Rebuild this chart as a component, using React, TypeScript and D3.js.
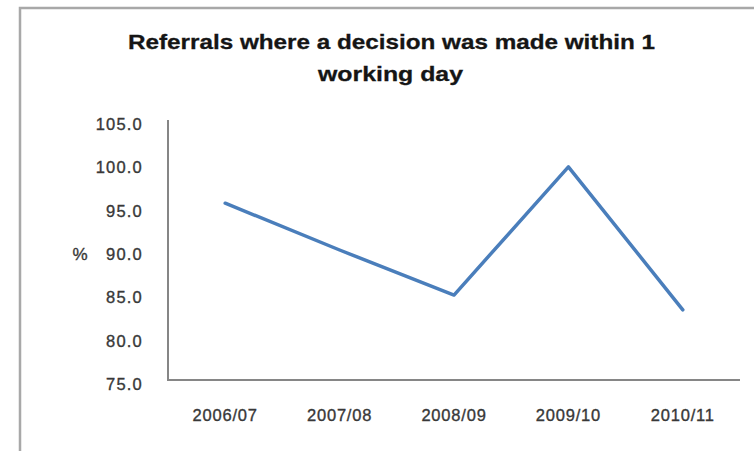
import React from "react";
import * as d3 from "d3";

const categories: string[] = ["2006/07", "2007/08", "2008/09", "2009/10", "2010/11"];
const values: number[] = [95.4, 90.0, 84.8, 99.6, 83.1];
const yTicks: number[] = [75, 80, 85, 90, 95, 100, 105];
const titleLines: string[] = ["Referrals where a decision was made within 1", "working day"];
const yAxisLabel = "%";

const W = 754;
const H = 451;
const plot = { left: 168, right: 740, top: 120, bottom: 380 };

export default function App() {
  const x = d3.scaleBand<string>().domain(categories).range([plot.left, plot.right]).padding(0);
  const y = d3.scaleLinear().domain([75, 105]).range([plot.bottom, plot.top]);
  const line = d3
    .line<number>()
    .x((_, i) => (x(categories[i]) as number) + x.bandwidth() / 2)
    .y((d) => y(d));

  const textColor = "#383838";
  const font = "'Liberation Sans', Arial, sans-serif";

  return (
    <svg
      width={W}
      height={H}
      viewBox={`0 0 ${W} ${H}`}
      style={{ position: "absolute", left: 0, top: 0, background: "#fff" }}
    >
      <rect x={0} y={0} width={W} height={H} fill="#fff" />
      {/* chart border */}
      <path d={`M20,${H + 5} L20,8 L${W + 5},8`} fill="none" stroke="#a8a8a8" strokeWidth={2.5} />

      {/* title */}
      <text x={391.5} y={49} textAnchor="middle" fontFamily={font} fontWeight="bold" fontSize={21}
        fill="#151515" stroke="#151515" strokeWidth={0.3} textLength={527} lengthAdjust="spacingAndGlyphs">
        {titleLines[0]}
      </text>
      <text x={390.5} y={81} textAnchor="middle" fontFamily={font} fontWeight="bold" fontSize={21}
        fill="#151515" stroke="#151515" strokeWidth={0.3} textLength={145} lengthAdjust="spacingAndGlyphs">
        {titleLines[1]}
      </text>

      {/* y tick labels */}
      {yTicks.map((t) => (
        <text key={t} x={143} y={y(t) + 10} textAnchor="end" fontFamily={font} fontSize={16.5}
          fill={textColor} stroke={textColor} strokeWidth={0.35} letterSpacing={1.2}>
          {t.toFixed(1)}
        </text>
      ))}
      <text x={80} y={y(90) + 10} textAnchor="middle" fontFamily={font} fontSize={17}
        fill={textColor} stroke={textColor} strokeWidth={0.35}>
        {yAxisLabel}
      </text>

      {/* x tick labels */}
      {categories.map((c) => (
        <text key={c} x={(x(c) as number) + x.bandwidth() / 2} y={421} textAnchor="middle"
          fontFamily={font} fontSize={16.5} fill={textColor} stroke={textColor} strokeWidth={0.35}
          letterSpacing={0.8}>
          {c}
        </text>
      ))}

      {/* axes */}
      <line x1={plot.left} x2={plot.left} y1={plot.top} y2={plot.bottom} stroke="#868686" strokeWidth={2} />
      <line x1={plot.left - 1} x2={plot.right} y1={plot.bottom} y2={plot.bottom} stroke="#868686" strokeWidth={2} />

      {/* series */}
      <path d={line(values) || ""} fill="none" stroke="#4a7ebb" strokeWidth={3.5}
        strokeLinejoin="round" strokeLinecap="round" />
    </svg>
  );
}
